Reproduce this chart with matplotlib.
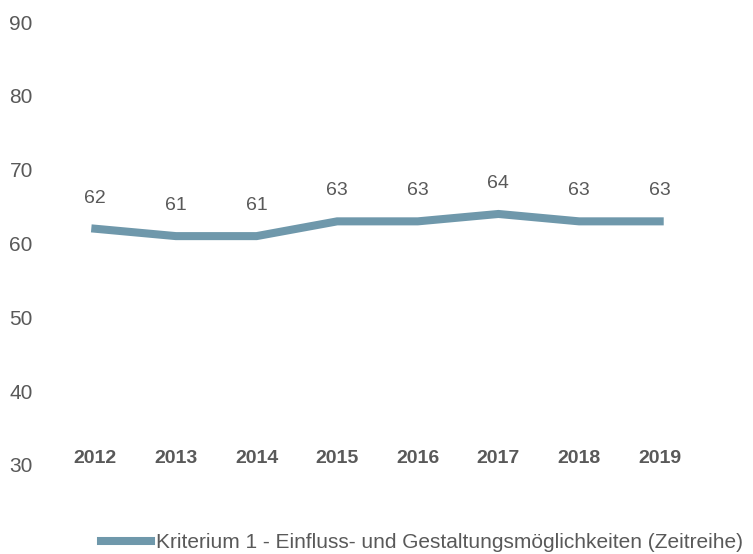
import matplotlib.pyplot as plt

years = ["2012", "2013", "2014", "2015", "2016", "2017", "2018", "2019"]
values = [62, 61, 61, 63, 63, 64, 63, 63]
series_name = "Kriterium 1 - Einfluss- und Gestaltungsmöglichkeiten (Zeitreihe)"

line_color = "#6f98ab"
text_color = "#595959"

plt.rcParams["font.family"] = ["Liberation Sans", "DejaVu Sans"]

fig = plt.figure(figsize=(7.53, 5.54), dpi=100)
W, H = 753, 554
ax = fig.add_axes([55 / W, (H - 465) / H, (700 - 55) / W, (465 - 22) / H])

x = list(range(len(years)))
ax.plot(x, values, color=line_color, linewidth=5.8, solid_joinstyle="miter", label=series_name)

# value labels above the points
for xi, v in zip(x, values):
    ax.annotate(str(v), (xi, v), xytext=(0, 22), textcoords="offset points",
                ha="center", va="center", fontsize=14, color=text_color)

ax.set_xlim(-0.5, len(years) - 0.5)
ax.set_ylim(30, 90)
ax.set_yticks(range(30, 91, 10))
ax.set_xticks(x, years, fontweight="bold")
ax.tick_params(axis="y", length=0, pad=16, labelsize=15, labelcolor=text_color)
ax.tick_params(axis="x", length=0, pad=-11, labelsize=14, labelcolor=text_color)
for s in ax.spines.values():
    s.set_visible(False)

fig.legend(loc="center", bbox_to_anchor=(422 / W, (H - 543) / H), frameon=False,
           fontsize=15, handlelength=2.4, handletextpad=0.25, labelcolor=text_color)

fig.savefig("out.png", dpi=100)
